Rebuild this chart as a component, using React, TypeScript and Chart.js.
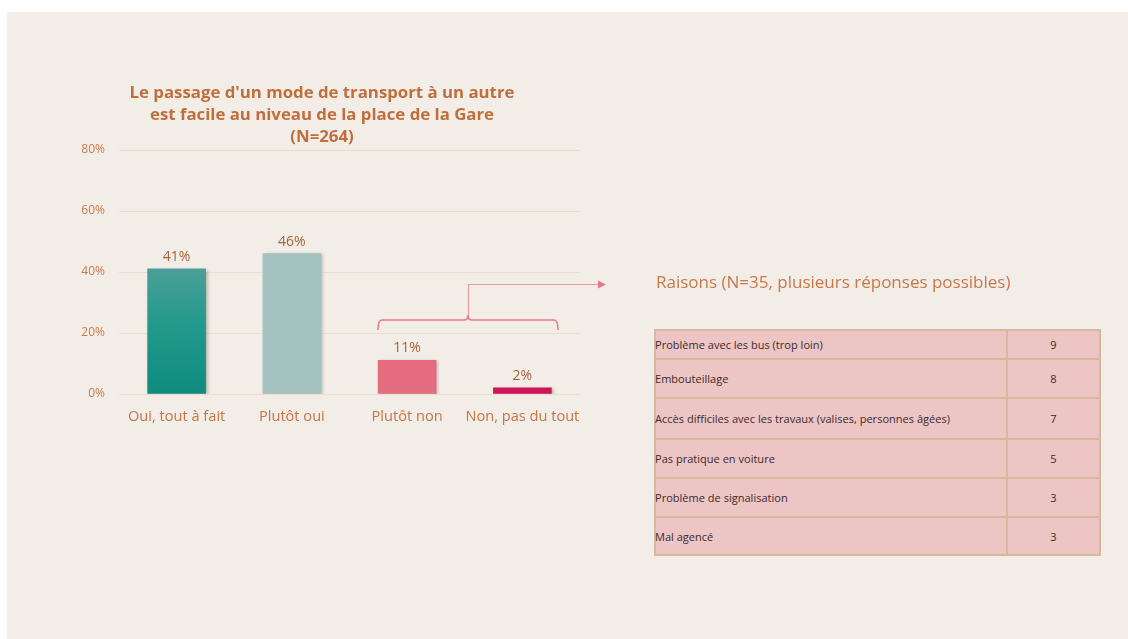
import React, { useEffect, useRef } from "react";
import { Chart, registerables } from "chart.js";

Chart.register(...registerables);

const titleLines = [
  "Le passage d'un mode de transport à un autre",
  "est facile au niveau de la place de la Gare",
  "(N=264)",
];
const categories = ["Oui, tout à fait", "Plutôt oui", "Plutôt non", "Non, pas du tout"];
const values = [41, 46, 11, 2];
const barColors = ["#1a9688", "#a3c2c0", "#e56c7e", "#d1145a"];
const yTicks = [0, 20, 40, 60, 80];

const reasonsTitle = "Raisons (N=35, plusieurs réponses possibles)";
const reasonLabels = [
  "Problème avec les bus (trop loin)",
  "Embouteillage",
  "Accès difficiles avec les travaux (valises, personnes âgées)",
  "Pas pratique en voiture",
  "Problème de signalisation",
  "Mal agencé",
];
const reasonCounts = [9, 8, 7, 5, 3, 3];
const rowHeights = [29, 39, 41, 39, 39, 38];

const FONT = "'Open Sans', 'Noto Sans', sans-serif";

export default function App() {
  const ref = useRef<HTMLCanvasElement | null>(null);

  useEffect(() => {
    const canvas = ref.current;
    if (!canvas) return;

    const titlePlugin = {
      id: "customTitle",
      afterDraw(chart: any) {
        const ctx = chart.ctx;
        ctx.save();
        ctx.fillStyle = "#c06f3c";
        ctx.font = `bold 16.8px ${FONT}`;
        ctx.textAlign = "center";
        ctx.textBaseline = "middle";
        titleLines.forEach((t, i) => ctx.fillText(t, 262, 33 + i * 22));
        ctx.restore();
      },
    };

    const shadowPlugin = {
      id: "barShadow",
      beforeDatasetsDraw(chart: any) {
        const ctx = chart.ctx;
        ctx.save();
        ctx.shadowColor = "rgba(60,40,30,0.28)";
        ctx.shadowBlur = 3;
        ctx.shadowOffsetX = 2;
        ctx.shadowOffsetY = 1;
      },
      afterDatasetsDraw(chart: any) {
        chart.ctx.restore();
      },
    };

    const labelPlugin = {
      id: "valueLabels",
      afterDatasetsDraw(chart: any) {
        const ctx = chart.ctx;
        const meta = chart.getDatasetMeta(0);
        ctx.save();
        ctx.fillStyle = "#a4633d";
        ctx.font = `14px ${FONT}`;
        ctx.textAlign = "center";
        ctx.textBaseline = "bottom";
        meta.data.forEach((el: any, i: number) => {
          ctx.fillText(values[i] + "%", el.x, el.y - 5);
        });
        ctx.restore();
      },
    };

    const chart = new Chart(canvas, {
      type: "bar",
      data: {
        labels: categories,
        datasets: [
          {
            data: values,
            backgroundColor: (c: any) => {
              const i = c.dataIndex;
              if (i === 0 && c.chart.chartArea) {
                const y = c.chart.scales.y;
                const g = c.chart.ctx.createLinearGradient(
                  0,
                  y.getPixelForValue(values[0]),
                  0,
                  y.getPixelForValue(0)
                );
                g.addColorStop(0, "#4b9f98");
                g.addColorStop(0.45, "#22998b");
                g.addColorStop(1, "#0f8c7e");
                return g;
              }
              return barColors[i];
            },
            barThickness: 58,
            borderWidth: 0,
          },
        ],
      },
      options: {
        animation: false,
        responsive: false,
        maintainAspectRatio: false,
        layout: { padding: { top: 90, right: 20, bottom: 6, left: 0 } },
        plugins: {
          legend: { display: false },
          tooltip: { enabled: false },
          title: { display: false },
        },
        scales: {
          x: {
            grid: { display: false, drawTicks: false },
            border: { display: false },
            afterFit: (s: any) => {
              s.height = 40;
            },
            ticks: {
              autoSkip: false,
              maxRotation: 0,
              padding: 14,
              color: "#c27649",
              font: { family: FONT, size: 14.6 },
            },
          },
          y: {
            min: 0,
            max: 80,
            afterBuildTicks: (s: any) => {
              s.ticks = yTicks.map((v) => ({ value: v }));
            },
            afterFit: (s: any) => {
              s.width = 59;
            },
            grid: { color: "#efdccf", lineWidth: 1, drawTicks: false },
            border: { display: false },
            ticks: {
              padding: 14,
              color: "#c97b4b",
              font: { family: FONT, size: 12 },
              callback: (v: any) => v + "%",
            },
          },
        },
      },
      plugins: [shadowPlugin, labelPlugin, titlePlugin],
    } as any);

    return () => chart.destroy();
  }, []);

  const pink = "#e8788a";

  return (
    <div style={{ position: "absolute", left: 0, top: 0, width: 1128, height: 639, overflow: "hidden", fontFamily: FONT }}>
      <div style={{ position: "absolute", left: 7, top: 12, width: 1121, height: 627, background: "#f2ede7" }} />
      <canvas
        ref={ref}
        width={540}
        height={380}
        style={{ position: "absolute", left: 60, top: 60, width: 540, height: 380 }}
      />
      <svg
        width={1128}
        height={639}
        style={{ position: "absolute", left: 0, top: 0, pointerEvents: "none" }}
      >
        <path
          d="M378 330 Q378 320 382 320 L464 320 Q468 320 468 315 Q468 320 472 320 L554 320 Q558 320 558 330"
          fill="none"
          stroke={pink}
          strokeWidth={1.5}
        />
        <path d="M468.5 315 L468.5 284.5 L598 284.5" fill="none" stroke="#ee98a4" strokeWidth={1.2} />
        <path d="M598 280.5 L606 284.5 L598 288.5 Z" fill={pink} />
      </svg>
      <div
        style={{
          position: "absolute",
          left: 656,
          top: 270,
          fontSize: 17,
          lineHeight: "24px",
          color: "#c8784a",
          whiteSpace: "nowrap",
        }}
      >
        {reasonsTitle}
      </div>
      <table
        style={{
          position: "absolute",
          left: 654,
          top: 329,
          width: 445,
          borderCollapse: "collapse",
          border: "2px solid #d5b99a",
          background: "#edc5c5",
          fontSize: 11,
          color: "#3b2b2b",
          tableLayout: "fixed",
        }}
      >
        <colgroup>
          <col style={{ width: 352 }} />
          <col style={{ width: 93 }} />
        </colgroup>
        <tbody>
          {reasonLabels.map((l, i) => (
            <tr key={i} style={{ height: rowHeights[i] }}>
              <td
                style={{
                  border: "2px solid #d5b99a",
                  padding: 0,
                  whiteSpace: "nowrap",
                }}
              >
                <span style={{ marginLeft: -1, letterSpacing: "0.02px" }}>{l}</span>
              </td>
              <td style={{ border: "2px solid #d5b99a", padding: 0, textAlign: "center" }}>
                {reasonCounts[i]}
              </td>
            </tr>
          ))}
        </tbody>
      </table>
    </div>
  );
}
